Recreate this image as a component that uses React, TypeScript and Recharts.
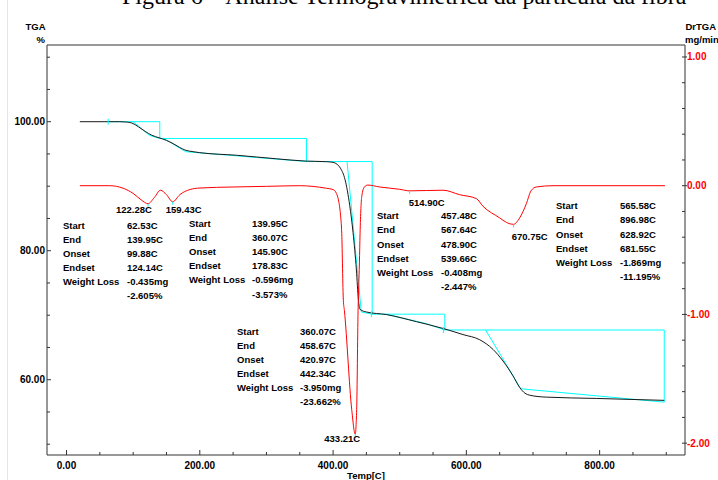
import React from "react";
import {ComposedChart, Line, XAxis, YAxis, ReferenceArea} from "recharts";

// axis ticks
const tempTicks = [0, 50, 100, 150, 200, 250, 300, 350, 400, 450, 500, 550, 600, 650, 700, 750, 800, 850, 900];
const tempLabels = [0, 200, 400, 600, 800];
const tgaTicks = [50, 55, 60, 65, 70, 75, 80, 85, 90, 95, 100, 105, 110];
const tgaLabels = [60, 80, 100];
const drTicks = [-2, -1.8, -1.6, -1.4, -1.2, -1, -0.8, -0.6, -0.4, -0.2, 0, 0.2, 0.4, 0.6, 0.8, 1];
const drLabels = [-2, -1, 0, 1];

// TGA (%) vs temperature (C)
const tgaCurve = [
    {t: 20, v: 100}, {t: 80, v: 100}, {t: 90, v: 99.95}, {t: 98, v: 99.8}, {t: 108, v: 99.2},
    {t: 118, v: 98.5}, {t: 128, v: 97.9}, {t: 139, v: 97.5}, {t: 150, v: 97.1}, {t: 160, v: 96.6},
    {t: 170, v: 96.0}, {t: 178, v: 95.6}, {t: 190, v: 95.35}, {t: 200, v: 95.2}, {t: 255, v: 94.8},
    {t: 315, v: 94.25}, {t: 358, v: 93.9}, {t: 390, v: 93.8}, {t: 400, v: 93.7}, {t: 406, v: 93.4},
    {t: 411, v: 92.8}, {t: 418, v: 91.0}, {t: 425, v: 87.0}, {t: 430, v: 82.8}, {t: 435, v: 77.0},
    {t: 438, v: 72.4}, {t: 440.5, v: 70.9}, {t: 450, v: 70.5}, {t: 480, v: 70.1}, {t: 525, v: 69.0},
    {t: 565, v: 67.95}, {t: 595, v: 67.0}, {t: 620, v: 66.2}, {t: 640, v: 64.7}, {t: 655, v: 62.9},
    {t: 670, v: 60.6}, {t: 680, v: 58.8}, {t: 688, v: 57.9}, {t: 695, v: 57.6}, {t: 720, v: 57.3},
    {t: 795, v: 57.1}, {t: 897, v: 56.8},
];

// DrTGA (mg/min)
const drtgaCurve = [
    {t: 20, v: 0}, {t: 65, v: 0}, {t: 85, v: -0.02}, {t: 100, v: -0.06}, {t: 112, v: -0.11},
    {t: 122.3, v: -0.14}, {t: 132, v: -0.09}, {t: 141, v: -0.035}, {t: 150, v: -0.07}, {t: 159.4, v: -0.125},
    {t: 170, v: -0.07}, {t: 185, v: -0.03}, {t: 200, v: -0.018}, {t: 250, v: -0.01}, {t: 300, v: -0.005},
    {t: 350, v: 0}, {t: 390, v: -0.02}, {t: 400, v: -0.03}, {t: 405, v: -0.06}, {t: 408, v: -0.11},
    {t: 411, v: -0.22}, {t: 413, v: -0.37}, {t: 415.4, v: -0.89}, {t: 417, v: -0.97}, {t: 428, v: -1.74},
    {t: 433.2, v: -1.93}, {t: 435.4, v: -1.74}, {t: 437.5, v: -0.97}, {t: 439.5, v: -0.6}, {t: 440.5, v: -0.37},
    {t: 443, v: -0.085}, {t: 447, v: -0.01}, {t: 452, v: 0.005}, {t: 470, v: -0.01}, {t: 500, v: -0.028},
    {t: 514.9, v: -0.04}, {t: 565, v: -0.035}, {t: 590, v: -0.07}, {t: 615, v: -0.1}, {t: 625, v: -0.16},
    {t: 650, v: -0.25}, {t: 660, v: -0.285}, {t: 670.75, v: -0.3}, {t: 680, v: -0.25}, {t: 690, v: -0.14},
    {t: 697, v: -0.04}, {t: 705, v: -0.01}, {t: 730, v: 0}, {t: 898, v: 0},
];

// step analysis (cyan)
const stepOutline = [
    {t: 62.53, v: 100}, {t: 139.95, v: 100}, {t: 139.95, v: 97.4}, {t: 360.07, v: 97.4},
    {t: 360.07, v: 93.82}, {t: 458.67, v: 93.82}, {t: 458.67, v: 70.16}, {t: 567.64, v: 70.16},
    {t: 567.64, v: 67.71}, {t: 896.98, v: 67.71}, {t: 896.98, v: 56.52},
];
const tangent1 = [{t: 99.88, v: 100}, {t: 124.14, v: 97.9}, {t: 139.95, v: 97.4}];
const tangent2 = [{t: 145.9, v: 97.4}, {t: 178.83, v: 95.35}, {t: 360.07, v: 93.82}];
const tangent3 = [{t: 420.97, v: 93.82}, {t: 442.34, v: 70.5}, {t: 458.67, v: 70.16}];
const tangent4 = [{t: 478.9, v: 70.16}, {t: 539.66, v: 68.7}, {t: 567.64, v: 67.71}];
const tangent5 = [{t: 628.92, v: 67.71}, {t: 681.55, v: 58.6}, {t: 896.98, v: 56.52}];
const startMarks = [{t: 62.53, v: 100}, {t: 457.48, v: 70.16}, {t: 565.58, v: 67.71}];
const peakMarks = [{t: 122.28, v: -0.14}, {t: 159.43, v: -0.125}, {t: 433.21, v: -1.93}, {t: 514.9, v: -0.04}, {t: 670.75, v: -0.3}];

const peakTemps = ["122.28C", "159.43C", "433.21C", "514.90C", "670.75C"];
const stepNames = ["Start", "End", "Onset", "Endset", "Weight Loss", ""];
const stepValues = [
    ["62.53C", "139.95C", "99.88C", "124.14C", "-0.435mg", "-2.605%"],
    ["139.95C", "360.07C", "145.90C", "178.83C", "-0.596mg", "-3.573%"],
    ["360.07C", "458.67C", "420.97C", "442.34C", "-3.950mg", "-23.662%"],
    ["457.48C", "567.64C", "478.90C", "539.66C", "-0.408mg", "-2.447%"],
    ["565.58C", "896.98C", "628.92C", "681.55C", "-1.869mg", "-11.195%"],
];

const font = '"Liberation Sans", Arial, sans-serif';
const cyan = '#00ffff';

const TempTick = (props: any) => {
    const {x, y, payload} = props;
    const major = tempLabels.includes(payload.value);
    return (
        <g>
            <line x1={x} x2={x} y1={y} y2={y - (major ? 5 : 3)} stroke="#333"/>
            {major && <text x={x} y={y + 14} textAnchor="middle" fontFamily={font} fontSize={10}
                            fontWeight="bold" fill="#000">{payload.value.toFixed(2)}</text>}
        </g>
    );
};

const TgaTick = (props: any) => {
    const {x, y, payload} = props;
    const major = tgaLabels.includes(payload.value);
    return (
        <g>
            <line x1={x} x2={x + (major ? 4 : 3)} y1={y} y2={y} stroke="#333"/>
            {major && <text x={x - 2} y={y + 3.5} textAnchor="end" fontFamily={font} fontSize={10}
                            fontWeight="bold" fill="#000">{payload.value.toFixed(2)}</text>}
        </g>
    );
};

const DrTick = (props: any) => {
    const {x, y, payload} = props;
    const major = drLabels.includes(payload.value);
    return (
        <g>
            <line x1={x - 3} x2={x + (major ? 2 : 0)} y1={y} y2={y} stroke="#333"/>
            {major && <text x={x + 2} y={y + 3.5} textAnchor="start" fontFamily={font} fontSize={10}
                            fontWeight="bold" fill="#ff0000">{payload.value.toFixed(2)}</text>}
        </g>
    );
};

// tiny cyan tick used as marker
const TickMark = (props: any) => {
    const {cx, cy, below} = props;
    if (cx == null || cy == null) return null;
    return <line x1={cx} x2={cx} y1={below ? cy : cy - 3} y2={cy + 3} stroke={cyan}/>;
};

function App() {
    const blocks = [
        {lx: 63, vx: 127, y: 225},
        {lx: 189, vx: 252, y: 223.3},
        {lx: 237, vx: 300, y: 331},
        {lx: 377, vx: 441, y: 215.7},
        {lx: 556, vx: 620, y: 205.7},
    ];
    const peaks = [
        {x: 116, y: 209.3},
        {x: 165.7, y: 209.3},
        {x: 324.3, y: 438.3},
        {x: 408.7, y: 202.3},
        {x: 511.7, y: 236},
    ];
    const txt = {fontFamily: font, fontSize: 9.5, fontWeight: 'bold' as const, fill: '#000'};
    return (
        <div style={{position: 'absolute', left: 0, top: 0, width: 718, height: 480, background: '#fff', overflow: 'hidden'}}>
            <div style={{position: 'absolute', left: 0, top: 0, width: 718, height: 10, overflow: 'hidden'}}>
                <span style={{position: 'absolute', left: 122, top: -17, fontFamily: '"Liberation Serif", serif',
                    fontSize: 24, whiteSpace: 'nowrap', color: '#000'}}>
                    Figura 6 – Análise Termogravimétrica da partícula da fibra
                </span>
            </div>
            <div style={{position: 'absolute', left: 7, top: 0, width: 1, height: 480, background: '#e8e5da'}}/>
            <ComposedChart width={718} height={480} margin={{top: 45, right: 0, bottom: 0, left: 0}}>
                <XAxis dataKey="t" type="number" domain={[-29.3, 928.1]} allowDataOverflow ticks={tempTicks}
                       interval={0} height={25} tickSize={0} tickMargin={0} axisLine={false} tick={<TempTick/>}/>
                <YAxis yAxisId="l" type="number" domain={[48.33, 111.89]} allowDataOverflow ticks={tgaTicks}
                       interval={0} width={47} tickSize={0} tickMargin={0} axisLine={false} tick={<TgaTick/>}/>
                <YAxis yAxisId="r" orientation="right" type="number" domain={[-2.092, 1.093]} allowDataOverflow
                       ticks={drTicks} interval={0} width={33} tickSize={0} tickMargin={0} axisLine={false}
                       tick={<DrTick/>}/>
                <ReferenceArea yAxisId="l" x1={-29.3} x2={928.1} y1={48.33} y2={111.89} stroke="#333"
                               fill="none" ifOverflow="visible"/>
                {[stepOutline, tangent1, tangent2, tangent3, tangent4, tangent5].map((d, i) => (
                    <Line key={i} yAxisId="l" data={d} dataKey="v" type="linear" stroke={cyan} strokeWidth={1}
                          dot={false} isAnimationActive={false}/>
                ))}
                <Line yAxisId="l" data={startMarks} dataKey="v" stroke="none" isAnimationActive={false}
                      dot={<TickMark/>} activeDot={false}/>
                <Line yAxisId="l" data={tgaCurve} dataKey="v" type="monotone" stroke="#1a1a1a" strokeWidth={1}
                      dot={false} isAnimationActive={false}/>
                <Line yAxisId="r" data={drtgaCurve} dataKey="v" type="monotone" stroke="#ff0000" strokeWidth={1}
                      dot={false} isAnimationActive={false}/>
                <Line yAxisId="r" data={peakMarks} dataKey="v" stroke="none" isAnimationActive={false}
                      dot={<TickMark below/>} activeDot={false}/>
            </ComposedChart>
            <svg width={718} height={480} style={{position: 'absolute', left: 0, top: 0, pointerEvents: 'none'}}>
                <text x={45.5} y={30} textAnchor="end" {...txt}>TGA</text>
                <text x={45} y={43} textAnchor="end" {...txt}>%</text>
                <text x={685.5} y={30} {...txt}>DrTGA</text>
                <text x={685} y={43} {...txt}>mg/min</text>
                <text x={366} y={479} textAnchor="middle" {...txt}>Temp[C]</text>
                {peaks.map((p, i) => (
                    <text key={'p' + i} x={p.x} y={p.y + 3.5} {...txt}>{peakTemps[i]}</text>
                ))}
                {blocks.map((b, i) => stepNames.map((n, j) => (
                    <g key={'b' + i + j}>
                        {n && <text x={b.lx} y={b.y + j * 14.15 + 3.5} {...txt}>{n}</text>}
                        <text x={b.vx} y={b.y + j * 14.15 + 3.5} {...txt}>{stepValues[i][j]}</text>
                    </g>
                )))}
            </svg>
        </div>
    );
}

export default App;
